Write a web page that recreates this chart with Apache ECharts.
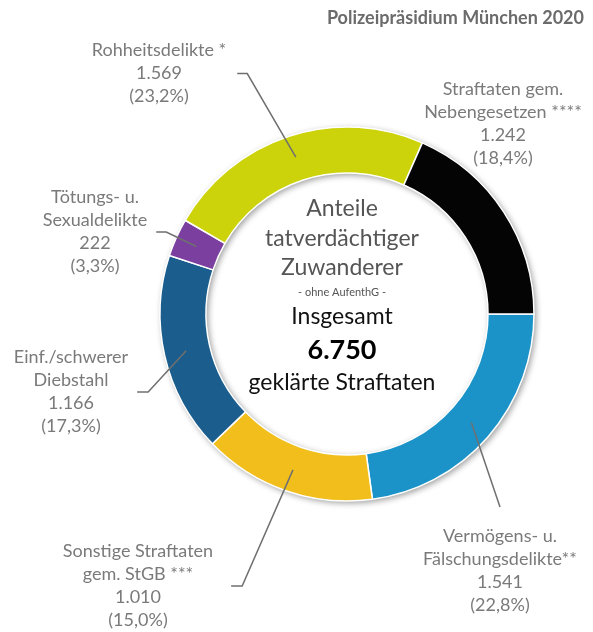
<!DOCTYPE html>
<html>
<head>
<meta charset="utf-8">
<script src="https://cdn.jsdelivr.net/npm/echarts@6/dist/echarts.min.js"></script>
<style>
html,body{margin:0;padding:0;background:#fff;}
#c{width:593px;height:632px;}
</style>
</head>
<body>
<div id="c"></div>
<script>
// ---- data (clockwise from 3 o'clock) ----
const categories = [
  'Vermögens- u.\nFälschungsdelikte**',
  'Sonstige Straftaten\ngem. StGB ***',
  'Einf./schwerer\nDiebstahl',
  'Tötungs- u.\nSexualdelikte',
  'Rohheitsdelikte *',
  'Straftaten gem.\nNebengesetzen ****'
];
const values = [1541, 1010, 1166, 222, 1569, 1242];
const colors = ['#1b93c9', '#f2be1c', '#1b5e8d', '#7b3f9f', '#cdd30b', '#040404'];

// ---- label layout (centre x, top y, padding, line tail) ----
const labelX = [500, 138, 71, 95, 159, 503];
const labelTop = [507, 540, 346, 186, 39, 78];
const labelPad = [[18,0,0,0],[0,18,0,18],[0,9,0,9],[0,9,0,9],[0,11,0,11],[0,0,0,0]];
const lineTail = [0, 11, 11, 10, 10, 0];
const lineShow = [true, true, true, true, true, false];

const total = values.reduce((a, b) => a + b, 0);
function fmtDE(n) { return String(n).replace(/\B(?=(\d{3})+(?!\d))/g, '.'); }
function pctDE(v) { return (v / total * 100).toFixed(1).replace('.', ','); }

const C = [347, 314];
const labelFont = 'Lato';

const chart = echarts.init(document.getElementById('c'), null, {renderer: 'canvas'});

const ringData = values.map((v, i) => ({
  name: categories[i], value: v, itemStyle: {color: colors[i]}
}));
const labelData = values.map((v, i) => ({
  name: categories[i], value: v,
  label: {padding: labelPad[i]},
  labelLine: {show: lineShow[i], length2: lineTail[i]}
}));

function centreText(y, text, font, fill) {
  return {type: 'text', x: 342, y: y, style: {text: text, align: 'center', verticalAlign: 'middle',
    textAlign: 'center', textVerticalAlign: 'middle', font: font, fill: fill}};
}

chart.setOption({
  animation: false,
  backgroundColor: '#fff',
  title: {
    text: 'Polizeipräsidium München 2020',
    right: 4, top: 4,
    textStyle: {fontFamily: labelFont, fontWeight: 'bold', fontSize: 18, color: '#6b6b6b'}
  },
  series: [
    {
      type: 'pie', silent: true, center: C, radius: [141, 187],
      startAngle: 0, label: {show: false}, labelLine: {show: false},
      itemStyle: {color: '#fff', shadowBlur: 6, shadowColor: 'rgba(0,0,0,0.4)', shadowOffsetX: 2, shadowOffsetY: 2},
      data: [{value: total}], z: 1
    },
    {
      type: 'pie', silent: true, center: C, radius: [141, 187],
      startAngle: 0, clockwise: true, avoidLabelOverlap: false,
      label: {show: false}, labelLine: {show: false},
      itemStyle: {borderColor: '#fff', borderWidth: 1.5},
      data: ringData, z: 2
    },
    {
      type: 'pie', silent: true, center: C, radius: [0, 165],
      startAngle: 0, clockwise: true, avoidLabelOverlap: false,
      itemStyle: {color: 'rgba(0,0,0,0)'},
      emphasis: {disabled: true},
      label: {
        show: true, position: 'outside',
        fontFamily: labelFont, fontSize: 18, lineHeight: 23, color: '#7a7a7a',
        formatter: p => categories[p.dataIndex] + '\n' + fmtDE(values[p.dataIndex]) + '\n(' + pctDE(values[p.dataIndex]) + '%)'
      },
      labelLine: {show: true, length: 10, length2: 10, lineStyle: {color: '#6f6f6f', width: 1.5}},
      labelLayout: function (params) {
        const i = params.dataIndex;
        return {x: labelX[i], y: labelTop[i], align: 'center', verticalAlign: 'top', hideOverlap: false};
      },
      data: labelData, z: 3
    }
  ],
  graphic: [
    centreText(209, 'Anteile', '23px ' + labelFont, '#555'),
    centreText(239, 'tatverdächtiger', '23px ' + labelFont, '#555'),
    centreText(268, 'Zuwanderer', '23px ' + labelFont, '#555'),
    centreText(292, '- ohne AufenthG -', '11px ' + labelFont, '#555'),
    centreText(317, 'Insgesamt', '23px ' + labelFont, '#111'),
    centreText(350, fmtDE(total), 'bold 27px ' + labelFont, '#000'),
    centreText(383, 'geklärte Straftaten', '23px ' + labelFont, '#111')
  ]
});
</script>
</body>
</html>
